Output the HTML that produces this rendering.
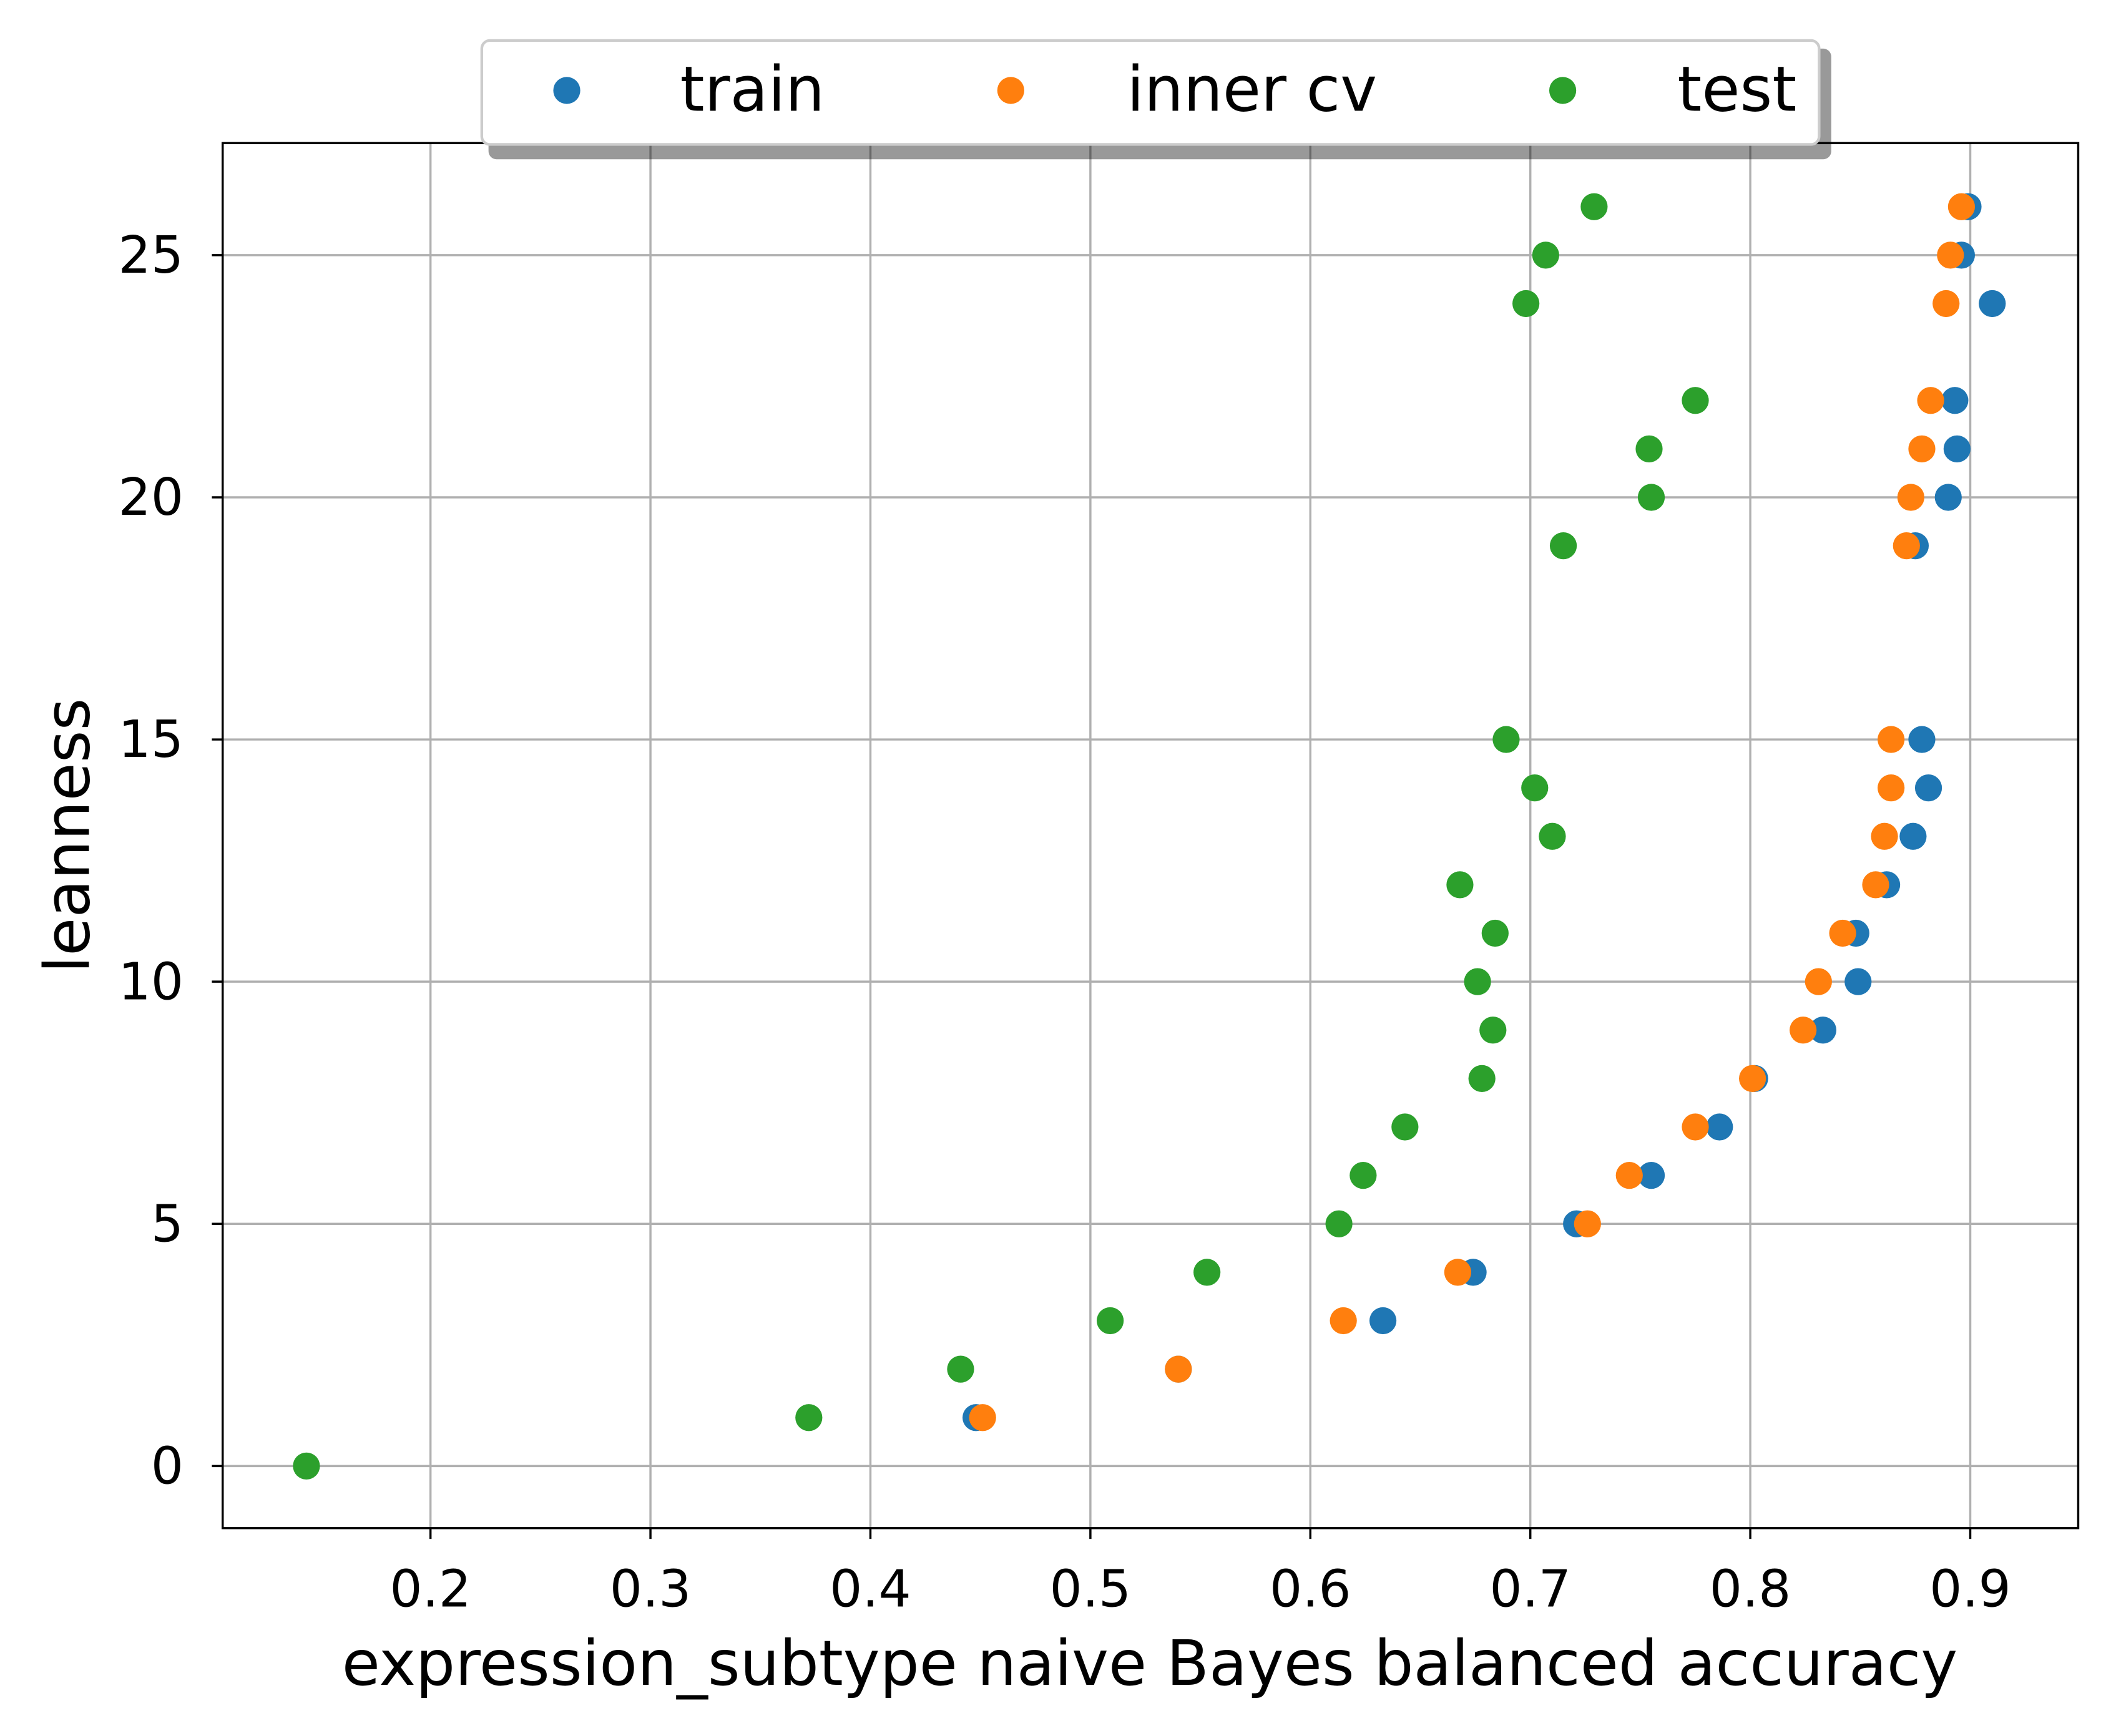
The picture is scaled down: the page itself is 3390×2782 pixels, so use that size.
<!DOCTYPE html>
<html><head><meta charset="utf-8"><style>html,body{margin:0;padding:0;background:#fff}svg{display:block}</style></head>
<body>
<svg id="chart" width="3390" height="2782" viewBox="0 0 1568 1286" preserveAspectRatio="none" xmlns="http://www.w3.org/2000/svg" font-family="'DejaVu Sans','Liberation Sans',sans-serif">
<rect width="1568" height="1286" fill="#fff"/>
<g id="grid"></g>
<g id="marks"></g>
<rect x="165" y="106" width="1375" height="1026" fill="none" stroke="#000" stroke-width="1.6"/>
<g id="ticks"></g>
<text x="852" y="1248" font-size="46" text-anchor="middle">expression_subtype naive Bayes balanced accuracy</text>
<text transform="translate(66,619) rotate(-90)" font-size="46" text-anchor="middle">leanness</text>
<g>
<rect x="362" y="36" width="995" height="82" rx="6" fill="#000" opacity="0.4"/>
<rect x="357" y="30" width="991" height="77" rx="6" fill="#fff" stroke="#ccc" stroke-width="2"/>
<g><circle cx="420" cy="67" r="10" fill="#1f77b4"/><text x="504" y="82" font-size="46">train</text></g>
<g><circle cx="749" cy="67" r="10" fill="#ff7f0e"/><text x="835" y="82" font-size="46">inner cv</text></g>
<g><circle cx="1158" cy="67" r="10" fill="#2ca02c"/><text x="1243" y="82" font-size="46">test</text></g>
</g>
</svg>
<script>
const xTicks=[0.2,0.3,0.4,0.5,0.6,0.7,0.8,0.9];
const yTicks=[0,5,10,15,20,25];
const trainY=[1,2,3,4,5,6,7,8,9,10,11,12,13,14,15,19,20,21,22,24,25,26];
const trainX=[0.448,0.540,0.633,0.674,0.721,0.755,0.786,0.802,0.833,0.849,0.848,0.862,0.874,0.881,0.878,0.875,0.890,0.894,0.893,0.910,0.896,0.899];
const cvY=[1,2,3,4,5,6,7,8,9,10,11,12,13,14,15,19,20,21,22,24,25,26];
const cvX=[0.451,0.540,0.615,0.667,0.726,0.745,0.775,0.801,0.824,0.831,0.842,0.857,0.861,0.864,0.864,0.871,0.873,0.878,0.882,0.889,0.891,0.896];
const testY=[0,1,2,3,4,5,6,7,8,9,10,11,12,13,14,15,19,20,21,22,24,25,26];
const testX=[0.1436,0.372,0.441,0.509,0.553,0.613,0.624,0.643,0.678,0.683,0.676,0.684,0.668,0.710,0.702,0.689,0.715,0.755,0.754,0.775,0.698,0.707,0.729];
const NS='http://www.w3.org/2000/svg';
function sx(v){return 319+(v-0.2)*1630;}
function sy(v){return 1086-v*35.88;}
function mk(tag,attrs,parent){const e=document.createElementNS(NS,tag);for(const k in attrs)e.setAttribute(k,attrs[k]);parent.appendChild(e);return e;}
const grid=document.getElementById('grid'),ticks=document.getElementById('ticks'),marks=document.getElementById('marks');
xTicks.forEach(t=>{
  const g=mk('line',{x1:sx(t),x2:sx(t),y1:106,y2:1132,stroke:'#b0b0b0','stroke-width':1.6},grid);
  
  
  mk('line',{x1:sx(t),x2:sx(t),y1:1132,y2:1140,stroke:'#000','stroke-width':1.6},ticks);
  const tx=mk('text',{x:sx(t),y:1190,'font-size':38,'text-anchor':'middle'},ticks);
  tx.textContent=t.toFixed(1);
  
  
});
yTicks.forEach(t=>{
  const g=mk('line',{x1:165,x2:1540,y1:sy(t),y2:sy(t),stroke:'#b0b0b0','stroke-width':1.6},grid);
  
  
  mk('line',{x1:157,x2:165,y1:sy(t),y2:sy(t),stroke:'#000','stroke-width':1.6},ticks);
  const tx=mk('text',{x:136,y:sy(t)+13,'font-size':38,'text-anchor':'end'},ticks);
  tx.textContent=String(t);
  
  
});
function series(xs,ys,color,name){
  xs.forEach((x,i)=>{
    const c=mk('circle',{cx:sx(x),cy:sy(ys[i]),r:10,fill:color},marks);
    
    
  });
}
series(trainX,trainY,'#1f77b4','train-point');
series(cvX,cvY,'#ff7f0e','inner-cv-point');
series(testX,testY,'#2ca02c','test-point');
</script>
</body></html>
